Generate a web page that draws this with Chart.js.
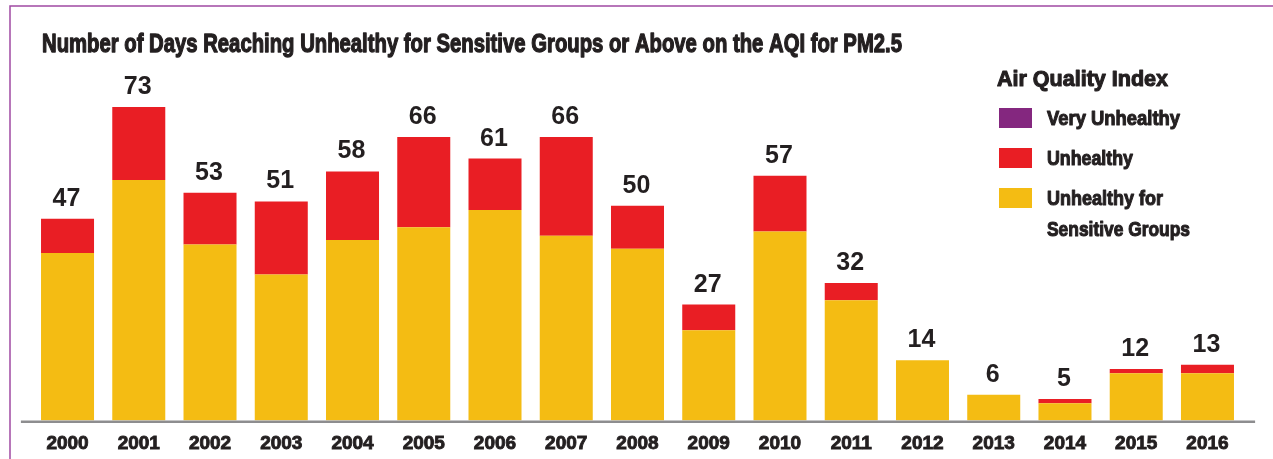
<!DOCTYPE html>
<html>
<head>
<meta charset="utf-8">
<script src="https://cdn.jsdelivr.net/npm/chart.js@4.4.1/dist/chart.umd.min.js"></script>
<style>
  html, body { margin: 0; padding: 0; background: #ffffff; }
  #wrap { position: relative; width: 1273px; height: 459px; }
</style>
</head>
<body>
<div id="wrap"><canvas id="c" width="1273" height="459"></canvas></div>
<script>
// ---- data ----
const chartTitle = 'Number of Days Reaching Unhealthy for Sensitive Groups or Above on the AQI for PM2.5';
const legendTitle = 'Air Quality Index';
const years = ['2000','2001','2002','2003','2004','2005','2006','2007','2008','2009','2010','2011','2012','2013','2014','2015','2016'];
const sensitiveGroups = [39,56,41,34,42,45,49,43,40,21,44,28,14,6,4,11,11];
const unhealthy       = [8,17,12,17,16,21,12,23,10,6,13,4,0,0,1,1,2];
const veryUnhealthy   = [0,0,0,0,0,0,0,0,0,0,0,0,0,0,0,0,0];
const seriesLabels = ['Unhealthy for\nSensitive Groups', 'Unhealthy', 'Very Unhealthy'];
const seriesColors = ['#f4bc13', '#e91e24', '#84277f'];

const TEXT = '#231f20';
const FAM = "'Liberation Sans Narrow','Liberation Sans',Arial,sans-serif";

// draws one line of text squeezed/stretched to a given width, slightly emboldened
function fitText(ctx, text, x, y, size, width, stroke) {
  ctx.save();
  ctx.font = 'bold ' + size + 'px ' + FAM;
  const w = ctx.measureText(text).width;
  const sx = width / w;
  ctx.translate(x, y);
  ctx.scale(sx, 1);
  ctx.textAlign = 'left';
  ctx.textBaseline = 'alphabetic';
  ctx.fillStyle = TEXT;
  ctx.strokeStyle = TEXT;
  ctx.lineWidth = stroke;
  ctx.lineJoin = 'round';
  ctx.strokeText(text, 0, 0);
  ctx.fillText(text, 0, 0);
  ctx.restore();
}

const legendWidths = { 'Very Unhealthy': 133, 'Unhealthy': 86, 'Unhealthy for': 116, 'Sensitive Groups': 143 };

const framePlugin = {
  id: 'frame',
  beforeDraw(chart) {
    const ctx = chart.ctx;
    ctx.save();
    ctx.fillStyle = '#ffffff';
    ctx.fillRect(0, 0, chart.width, chart.height);
    ctx.strokeStyle = '#a04aa2';
    ctx.lineWidth = 1.5;
    ctx.beginPath();
    ctx.moveTo(10, chart.height);
    ctx.lineTo(10, 6);
    ctx.lineTo(chart.width, 6);
    ctx.stroke();
    ctx.restore();
  },
  afterDraw(chart) {
    const ctx = chart.ctx;
    const a = chart.chartArea;
    // baseline axis line
    ctx.save();
    ctx.strokeStyle = '#8d8d8f';
    ctx.lineWidth = 2.5;
    ctx.beginPath();
    ctx.moveTo(a.left - 11, a.bottom + 1.2);
    ctx.lineTo(a.right + 12, a.bottom + 1.2);
    ctx.stroke();
    ctx.restore();
    // title
    fitText(ctx, chartTitle, 42, 52, 26, 860, 1.3);
    // legend
    fitText(ctx, legendTitle, 997, 86, 22, 171, 1.1);
    const order = [2, 1, 0];
    order.forEach((di, k) => {
      const top = 108 + k * 40;
      ctx.save();
      ctx.fillStyle = seriesColors[di];
      ctx.fillRect(999, top, 33, 20);
      ctx.restore();
      const lines = seriesLabels[di].split('\n');
      lines.forEach((ln, j) => {
        fitText(ctx, ln, 1047, top + 17 + j * 31, 21, legendWidths[ln] || 120, 1.1);
      });
    });
  },
  afterDatasetsDraw(chart) {
    const ctx = chart.ctx;
    const xs = chart.scales.x, ys = chart.scales.y;
    ctx.save();
    ctx.font = 'bold 25px Liberation Sans, Arial, sans-serif';
    ctx.fillStyle = TEXT;
    ctx.textAlign = 'center';
    ctx.textBaseline = 'alphabetic';
    years.forEach((yr, i) => {
      const total = sensitiveGroups[i] + unhealthy[i] + veryUnhealthy[i];
      const x = xs.getPixelForValue(i);
      const y = ys.getPixelForValue(total);
      ctx.fillText(String(total), x - 1, y - 13);
    });
    ctx.restore();
  }
};

new Chart(document.getElementById('c'), {
  type: 'bar',
  data: {
    labels: years,
    datasets: [
      { label: 'Unhealthy for Sensitive Groups', data: sensitiveGroups, backgroundColor: seriesColors[0] },
      { label: 'Unhealthy', data: unhealthy, backgroundColor: seriesColors[1] },
      { label: 'Very Unhealthy', data: veryUnhealthy, backgroundColor: seriesColors[2] }
    ]
  },
  options: {
    responsive: false,
    animation: false,
    devicePixelRatio: 1,
    layout: { padding: { left: 31.9, right: 29.9, top: 76.9, bottom: 0 } },
    datasets: { bar: { barPercentage: 0.744, categoryPercentage: 1.0, borderWidth: 0 } },
    plugins: {
      legend: { display: false },
      title: { display: false },
      tooltip: { enabled: false }
    },
    scales: {
      x: {
        stacked: true,
        grid: { display: false, drawTicks: false },
        border: { display: false },
        ticks: {
          color: TEXT,
          padding: 12,
          maxRotation: 0,
          autoSkip: false,
          textStrokeColor: TEXT,
          textStrokeWidth: 0.9,
          font: { family: FAM, size: 19, weight: 'bold' }
        },
        afterFit(scale) { scale.height = 38.5; }
      },
      y: {
        stacked: true,
        display: false,
        min: 0,
        max: 80
      }
    }
  },
  plugins: [framePlugin]
});
</script>
</body>
</html>
